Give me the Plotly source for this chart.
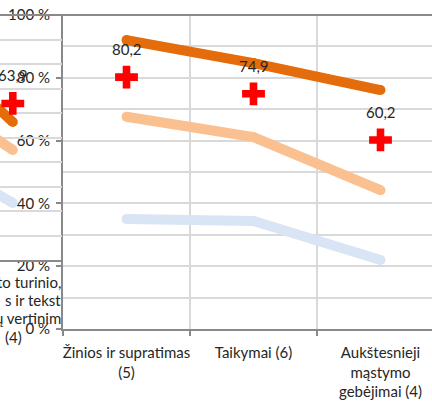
import plotly.graph_objects as go

# Right chart (main)
categories = ["Žinios ir supratimas<br>(5)", "Taikymai (6)", "Aukštesnieji<br>mąstymo<br>gebėjimai (4)"]
dark_orange = [92.0, 84.7, 76.1]
light_orange = [67.6, 61.1, 44.2]
light_blue = [35.0, 34.4, 22.0]
cross_vals = [80.2, 74.9, 60.2]
cross_labels = ["80,2", "74,9", "60,2"]

# Left chart (partially visible, behind)
left_x = [2, 3]
left_dark_orange = [94.0, 56.3]
left_light_orange = [72.0, 44.9]
left_light_blue = [46.5, 23.3]
left_cross_x = [3]
left_cross_vals = [63.9]
left_cross_labels = ["63,9"]
left_cat_lines = ["to turinio,", "s ir tekst", "ų vertinim"]
left_cat_last = "(4)"

C_DARK = "#E46C0A"
C_LIGHT = "#FAC090"
C_BLUE = "#D9E5F5"
C_RED = "#FF0000"
GRID = "#D9D9D9"
AXIS = "#898989"
TXT = "#262626"
FONT = "Lato, Open Sans, sans-serif"

W, H = 432, 401
T, B = 15, 72
plot_h = H - T - B
x0_px = 63

fig = go.Figure()

# Left chart traces
for vals, col in [(left_light_blue, C_BLUE), (left_light_orange, C_LIGHT), (left_dark_orange, C_DARK)]:
    fig.add_trace(go.Scatter(x=left_x, y=vals, mode="lines+markers",
                             line=dict(color=col, width=10),
                             marker=dict(color=col, size=10),
                             xaxis="x2", yaxis="y2", hoverinfo="skip", showlegend=False,
                             cliponaxis=False))
fig.add_trace(go.Scatter(x=left_cross_x, y=left_cross_vals, mode="markers",
                         marker=dict(symbol="cross", color=C_RED, size=19, line=dict(width=0)),
                         xaxis="x2", yaxis="y2", showlegend=False))

# Right chart traces
for vals, col in [(light_blue, C_BLUE), (light_orange, C_LIGHT), (dark_orange, C_DARK)]:
    fig.add_trace(go.Scatter(x=categories, y=vals, mode="lines+markers",
                             line=dict(color=col, width=10),
                             marker=dict(color=col, size=10),
                             hoverinfo="skip", showlegend=False))
fig.add_trace(go.Scatter(x=categories, y=cross_vals, mode="markers",
                         marker=dict(symbol="cross", color=C_RED, size=19, line=dict(width=0)),
                         showlegend=False))

annotations = []
for c, v, t in zip(categories, cross_vals, cross_labels):
    annotations.append(dict(x=c, y=v, text=t, showarrow=False, yshift=28,
                            font=dict(family=FONT, size=15, color=TXT)))
for c, v, t in zip(left_cross_x, left_cross_vals, left_cross_labels):
    annotations.append(dict(x=c, y=v, xref="x2", yref="y2", text=t, showarrow=False, yshift=28,
                            font=dict(family=FONT, size=15, color=TXT)))

def py(pix):
    return (H - B - pix) / plot_h

for i, line in enumerate(left_cat_lines):
    annotations.append(dict(x=63 / W, y=py(282 + 18 * i), xref="paper", yref="paper",
                            xanchor="right", yanchor="middle", text=line, showarrow=False,
                            font=dict(family=FONT, size=15, color=TXT)))
annotations.append(dict(x=13 / W, y=py(337), xref="paper", yref="paper", xanchor="center", yanchor="middle",
                        text=left_cat_last, showarrow=False,
                        font=dict(family=FONT, size=15, color=TXT)))

cat_w = 127
right_edge = -0.5 + (W - x0_px) / cat_w
left_dom_end = 62 / W
left_bottom_px = 260

fig.update_layout(
    width=W, height=H,
    margin=dict(l=0, r=0, t=T, b=B),
    paper_bgcolor="white", plot_bgcolor="white",
    font=dict(family=FONT, size=15, color=TXT),
    xaxis=dict(domain=[x0_px / W, 1], type="category", range=[-0.5, right_edge],
               tickson="boundaries", ticks="outside", ticklen=5, tickcolor=AXIS, tickwidth=2,
               showgrid=True, gridcolor=GRID, gridwidth=2, tickangle=0, automargin=False,
               showline=True, linecolor=AXIS, linewidth=2,
               tickfont=dict(family=FONT, size=15, color=TXT), ticklabelstandoff=9),
    yaxis=dict(range=[0, 100], dtick=20, ticksuffix=" %", ticks="outside", ticklen=5,
               tickcolor=AXIS, tickwidth=2, automargin=False,
               showgrid=True, gridcolor=GRID, gridwidth=2,
               minor=dict(dtick=10, showgrid=True, gridcolor=GRID, gridwidth=2),
               showline=True, linecolor=AXIS, linewidth=2, zeroline=False,
               tickfont=dict(family=FONT, size=15, color=TXT), ticklabelstandoff=3),
    xaxis2=dict(domain=[0, left_dom_end], anchor="y2", range=[2.87, 3.5], automargin=False,
                showgrid=False, zeroline=False, showticklabels=False, ticks="",
                showline=True, linecolor=AXIS, linewidth=2),
    yaxis2=dict(domain=[py(left_bottom_px), 1], anchor="x2", range=[0, 100], dtick=10,
                showgrid=True, gridcolor=GRID, gridwidth=2, zeroline=False, automargin=False,
                showticklabels=False, ticks="", showline=False),
    annotations=annotations,
    shapes=[dict(type="line", xref="paper", yref="paper", x0=-0.01, x1=1.01, y0=1, y1=1,
                 line=dict(color=AXIS, width=2))],
)

fig.write_html("out.html", config={"displayModeBar": False},
               post_script="document.body.style.margin='0';")
